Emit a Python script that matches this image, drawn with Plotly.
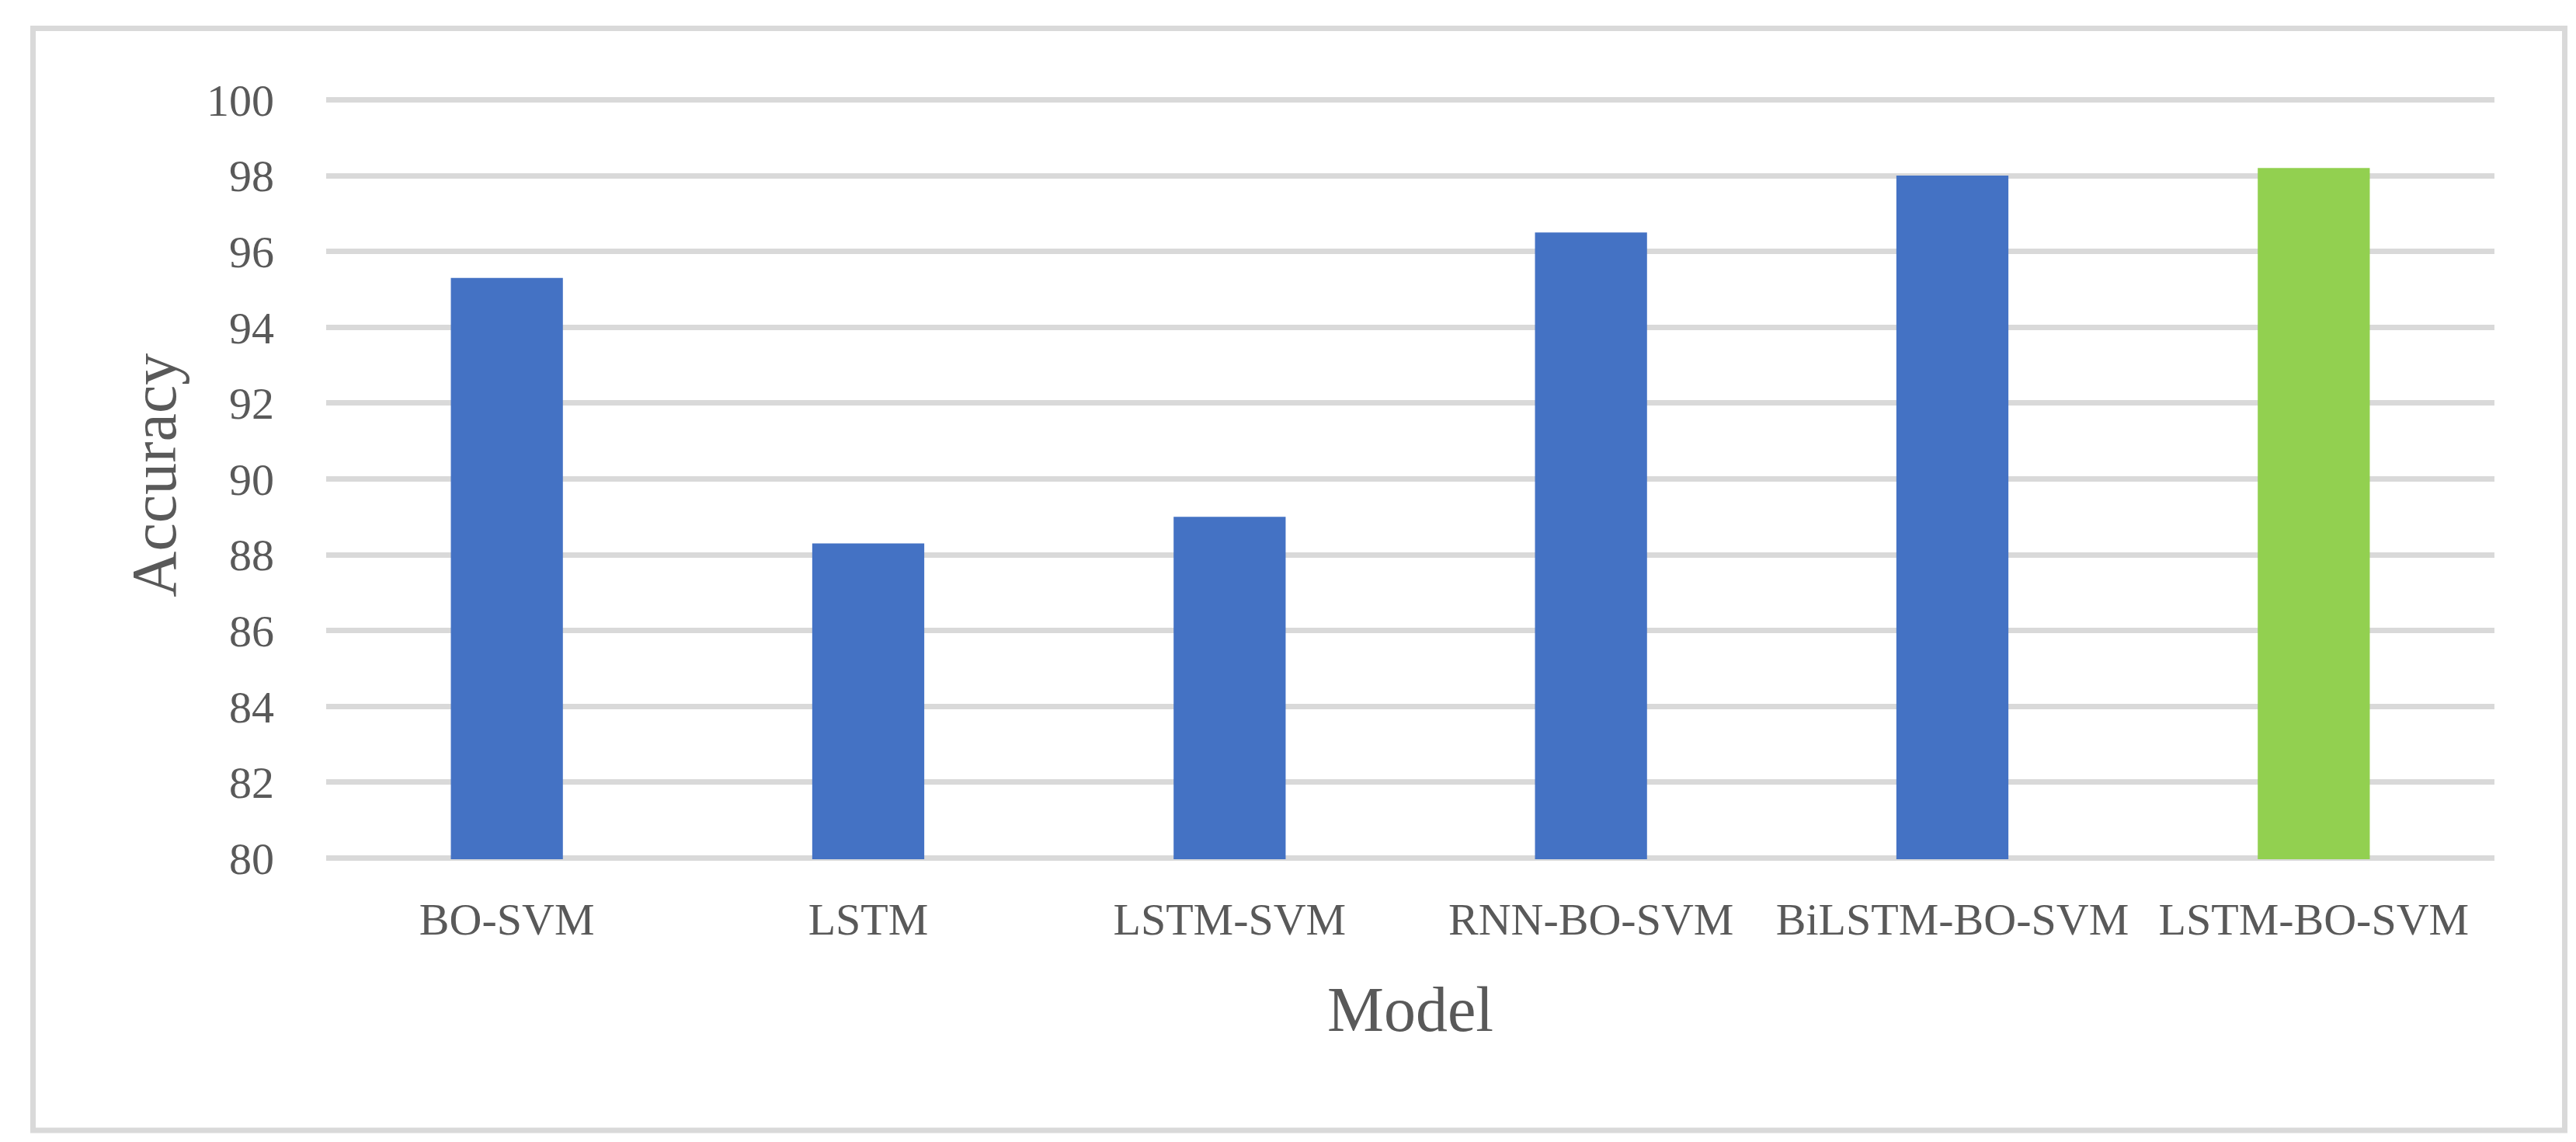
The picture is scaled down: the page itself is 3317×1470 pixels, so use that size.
import plotly.graph_objects as go

# ---- data ----
models = ["BO-SVM", "LSTM", "LSTM-SVM", "RNN-BO-SVM", "BiLSTM-BO-SVM", "LSTM-BO-SVM"]
accuracy = [95.3, 88.3, 89.0, 96.5, 98.0, 98.2]
bar_colors = ["#4472C4", "#4472C4", "#4472C4", "#4472C4", "#4472C4", "#92D050"]
y_ticks = [80, 82, 84, 86, 88, 90, 92, 94, 96, 98, 100]
x_title = "Model"
y_title = "Accuracy"

# ---- layout geometry (pixels) ----
W, H = 3317, 1470
PL, PR = 412, 3204
Y100, Y80 = 120.5, 1097.0          # pixel rows of the 100 and 80 gridlines
pad_u = 0.03                       # small range padding so edge gridlines are drawn
ppu = (Y80 - Y100) / 20.0
PT = Y100 - pad_u * ppu
PB = Y80 + pad_u * ppu
pw, ph = PR - PL, PB - PT


def px_x(x):
    return (x - PL) / pw


def px_y(y):
    return (PB - y) / ph


FONT = "Liberation Serif, Times New Roman, serif"
TXT = "#595959"
GRID = "#D9D9D9"

fig = go.Figure(
    go.Bar(
        x=models,
        y=accuracy,
        marker=dict(color=bar_colors, line=dict(width=0)),
        width=0.31,
        hoverinfo="x+y",
    )
)

fig.update_layout(
    width=W,
    height=H,
    margin=dict(l=PL, r=W - PR, t=round(PT), b=round(H - PB), pad=0),
    paper_bgcolor="white",
    plot_bgcolor="white",
    showlegend=False,
    font=dict(family=FONT, color=TXT),
    xaxis=dict(
        showgrid=False,
        showline=False,
        zeroline=False,
        ticks="",
        tickfont=dict(size=58, color=TXT, family=FONT),
        ticklabelstandoff=38,
    ),
    yaxis=dict(
        range=[y_ticks[0] - pad_u, y_ticks[-1] + pad_u],
        tickvals=y_ticks,
        showgrid=True,
        gridcolor=GRID,
        gridwidth=7,
        zeroline=False,
        showline=False,
        ticks="",
        tickfont=dict(size=58, color=TXT, family=FONT),
        ticklabelstandoff=66,
    ),
    annotations=[
        dict(
            text=y_title,
            xref="paper",
            yref="paper",
            x=px_x(191),
            y=px_y(604),
            xanchor="center",
            yanchor="middle",
            textangle=-90,
            showarrow=False,
            font=dict(size=82, color=TXT, family=FONT),
        ),
        dict(
            text=x_title,
            xref="paper",
            yref="paper",
            x=0.5,
            y=px_y(1292),
            xanchor="center",
            yanchor="middle",
            showarrow=False,
            font=dict(size=82, color=TXT, family=FONT),
        ),
    ],
    shapes=[
        dict(
            type="rect",
            xref="paper",
            yref="paper",
            x0=px_x(34.5),
            x1=px_x(3294.5),
            y0=px_y(1447.5),
            y1=px_y(28.5),
            line=dict(color=GRID, width=7),
            fillcolor="rgba(0,0,0,0)",
            layer="below",
        )
    ],
)

fig.write_html("out.html")
